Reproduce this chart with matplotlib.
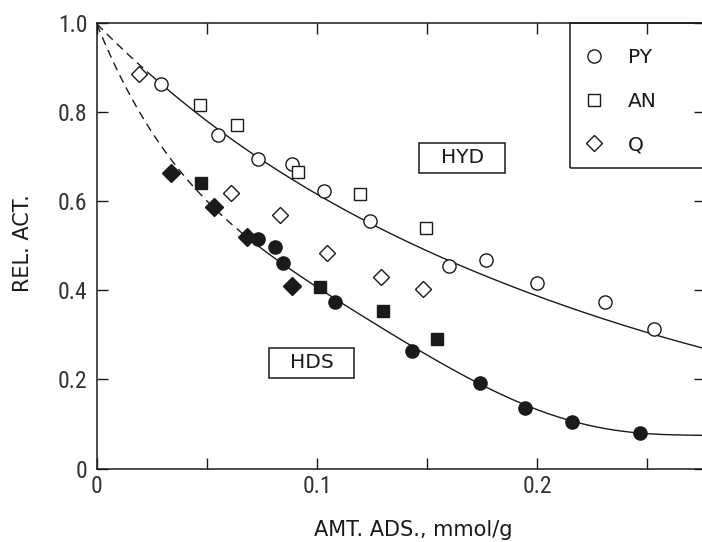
import numpy as np
import matplotlib
matplotlib.use("Agg")
import matplotlib.pyplot as plt
from matplotlib import font_manager
from matplotlib.patches import Rectangle

# ---------------- data ----------------
# HYD (open symbols)
py_hyd_x = [0.0291, 0.055, 0.0732, 0.0886, 0.103, 0.124, 0.160, 0.177, 0.200, 0.231, 0.253]
py_hyd_y = [0.863, 0.748, 0.695, 0.684, 0.622, 0.555, 0.454, 0.468, 0.416, 0.374, 0.313]
an_hyd_x = [0.0468, 0.0636, 0.0914, 0.1195, 0.1495]
an_hyd_y = [0.816, 0.770, 0.666, 0.616, 0.540]
q_hyd_x = [0.0191, 0.0609, 0.0832, 0.1045, 0.129, 0.148]
q_hyd_y = [0.886, 0.618, 0.569, 0.484, 0.430, 0.403]
# HDS (filled symbols)
py_hds_x = [0.0732, 0.081, 0.0845, 0.108, 0.143, 0.174, 0.1945, 0.216, 0.247]
py_hds_y = [0.515, 0.497, 0.461, 0.374, 0.264, 0.192, 0.136, 0.104, 0.080]
an_hds_x = [0.0473, 0.1014, 0.130, 0.1545]
an_hds_y = [0.641, 0.408, 0.354, 0.291]
q_hds_x = [0.0336, 0.0532, 0.0682, 0.0886]
q_hds_y = [0.663, 0.587, 0.520, 0.410]

# trend curves
hyd_curve_x = [0, 0.021, 0.0318, 0.0559, 0.0727, 0.0864, 0.1027, 0.124, 0.145, 0.160, 0.198, 0.251, 0.2745]
hyd_curve_y = [1.0, 0.897, 0.852, 0.751, 0.699, 0.654, 0.623, 0.555, 0.499, 0.454, 0.391, 0.312, 0.267]
hds_curve_x = [0, 0.0059, 0.0195, 0.0345, 0.0468, 0.0573, 0.0664, 0.0877, 0.107, 0.143, 0.1605, 0.174, 0.1945, 0.216, 0.247, 0.2745]
hds_curve_y = [1.0, 0.924, 0.80, 0.69, 0.616, 0.564, 0.526, 0.454, 0.380, 0.268, 0.235, 0.193, 0.137, 0.106, 0.081, 0.074]
hyd_dash_end = 0.023
hds_dash_end = 0.070

x_ticks = [0, 0.05, 0.1, 0.15, 0.2, 0.25]
x_tick_labels = ["0", "", "0.1", "", "0.2", ""]
y_ticks = [0, 0.2, 0.4, 0.6, 0.8, 1.0]
y_tick_labels = ["0", "0.2", "0.4", "0.6", "0.8", "1.0"]
legend_labels = ["PY", "AN", "Q"]

# ---------------- fonts ----------------
def pick(fams):
    for f in fams:
        try:
            font_manager.findfont(f, fallback_to_default=False)
            return f
        except Exception:
            continue
    return "DejaVu Sans"

narrow = pick(["Liberation Sans Narrow", "Roboto Condensed", "DejaVu Sans"])
plt.rcParams['font.family'] = ['DejaVu Sans']

INK = "#1a1a1a"

fig = plt.figure(figsize=(7.02, 5.42), dpi=100)
fig.patch.set_facecolor("white")
ax = fig.add_axes([97 / 702, (542 - 468.5) / 542, 608 / 702, 445.5 / 542])
ax.set_xlim(0, 0.2764)
ax.set_ylim(0, 1.0)

# curves (smooth polynomial through the read curve points)
hyd_p = np.poly1d(np.polyfit(hyd_curve_x, hyd_curve_y, 4))
hds_p = np.poly1d(np.polyfit(hds_curve_x, hds_curve_y, 6))
dash = (0, (6, 4))

def draw_curve(p, xmax, xsplit):
    xd = np.linspace(0, xsplit, 60)
    xsol = np.linspace(xsplit, xmax, 400)
    ax.plot(xd, p(xd), color=INK, lw=1.0, ls=dash)
    ax.plot(xsol, p(xsol), color=INK, lw=1.0)

draw_curve(hyd_p, max(hyd_curve_x) + 0.003, hyd_dash_end)
draw_curve(hds_p, max(hds_curve_x) + 0.003, hds_dash_end)

ms = 9.5
mew = 1.0
open_kw = dict(ls="none", mfc="white", mec=INK, mew=mew, zorder=5)
fill_kw = dict(ls="none", mfc=INK, mec=INK, mew=mew, zorder=5)
h_py, = ax.plot(py_hyd_x, py_hyd_y, marker="o", ms=ms, label=legend_labels[0], **open_kw)
h_an, = ax.plot(an_hyd_x, an_hyd_y, marker="s", ms=9.0, label=legend_labels[1], **open_kw)
h_q, = ax.plot(q_hyd_x, q_hyd_y, marker="D", ms=8.5, label=legend_labels[2], **open_kw)
ax.plot(py_hds_x, py_hds_y, marker="o", ms=ms, **fill_kw)
ax.plot(an_hds_x, an_hds_y, marker="s", ms=9.0, **fill_kw)
ax.plot(q_hds_x, q_hds_y, marker="D", ms=9.0, **fill_kw)

# ticks
ax.set_xticks(x_ticks)
ax.set_xticklabels(x_tick_labels)
ax.set_yticks(y_ticks)
ax.set_yticklabels(y_tick_labels)
ax.tick_params(direction="in", length=8, width=1.0, top=True, right=True,
               color=INK, labelcolor="#333333", labelsize=17)
ax.tick_params(axis="x", pad=5)
ax.tick_params(axis="y", pad=7)
for lab in ax.get_xticklabels() + ax.get_yticklabels():
    lab.set_family(narrow)
for s in ax.spines.values():
    s.set_linewidth(1.1)
    s.set_color(INK)

# axis labels
ax.set_xlabel("AMT. ADS., mmol/g", fontsize=15, color=INK)
ax.xaxis.label.set_va("center")
ax.xaxis.set_label_coords(0.52, -0.138)
ax.set_ylabel("REL. ACT.", fontsize=15, color=INK)
ax.yaxis.label.set_va("center")
ax.yaxis.label.set_ha("center")
ax.yaxis.set_label_coords(-0.1217, 0.506)

# region labels with boxes
ax.add_patch(Rectangle((0.1464, 0.6633), 0.0391, 0.0673, fill=False, ec=INK, lw=1.1, zorder=4))
ax.text(0.166, 0.697, "HYD", fontsize=14.5, ha="center", va="center", color=INK)
ax.add_patch(Rectangle((0.0782, 0.2032), 0.0386, 0.0673, fill=False, ec=INK, lw=1.1, zorder=4))
ax.text(0.0975, 0.237, "HDS", fontsize=14.5, ha="center", va="center", color=INK)

# legend: box runs off the right edge of the figure
ax.add_patch(Rectangle((0.778, 0.6745), 0.5, 1.0 - 0.6745, transform=ax.transAxes,
                       fill=False, ec=INK, lw=1.1, clip_on=False, zorder=6))
fs = 14.5
leg = ax.legend(handles=[h_py, h_an, h_q], loc="upper left",
                bbox_to_anchor=(0.770, 1.0),
                borderaxespad=0, fontsize=fs, frameon=False,
                borderpad=1.25, labelspacing=1.22,
                handlelength=0.37, handletextpad=1.5, numpoints=1)
leg.set_zorder(7)
for t in leg.get_texts():
    t.set_color(INK)

fig.savefig("out.png", dpi=100, facecolor="white")
